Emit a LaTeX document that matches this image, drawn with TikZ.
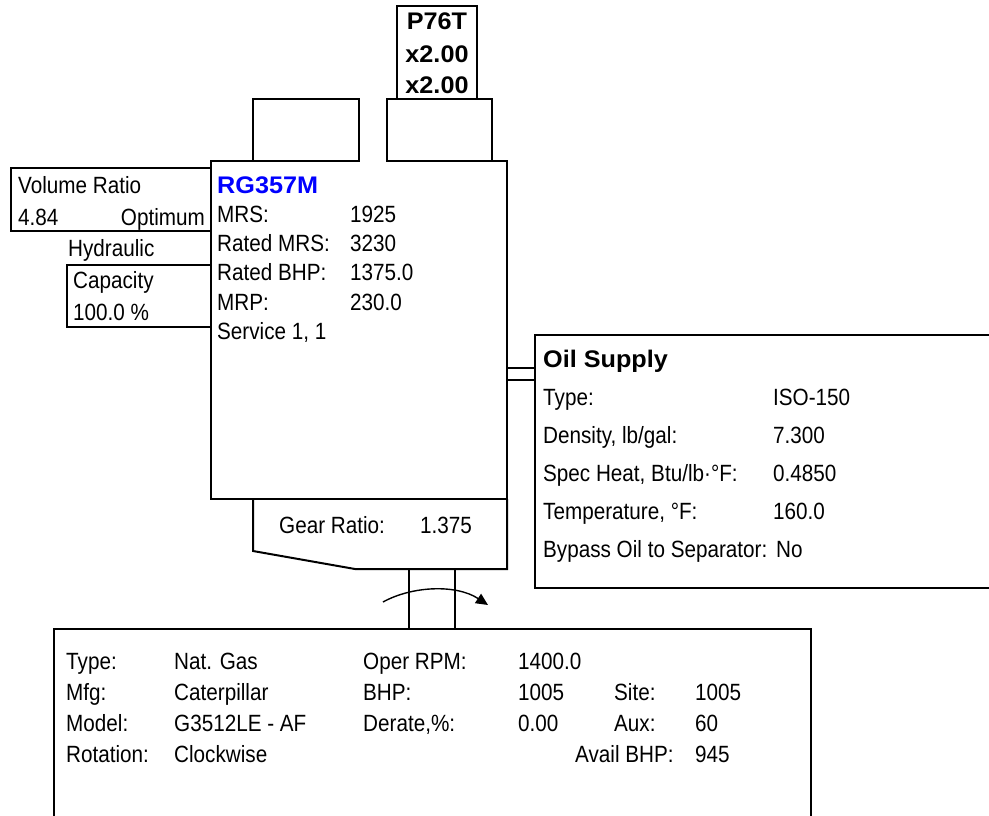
\documentclass[tikz,border=0pt]{standalone}
\usepackage{fontspec}
\setmainfont{Liberation Sans}[FakeStretch=0.88]
\newfontfamily\bdfamily{Liberation Sans}[FakeStretch=1.05]
\usetikzlibrary{arrows.meta}
\definecolor{tblue}{RGB}{0,0,255}
\newcommand{\rgfont}{\fontsize{23.5}{28}\selectfont}
\newcommand{\bdfont}{\bdfamily\bfseries\fontsize{24}{28}\selectfont}
\begin{document}
\begin{tikzpicture}[x=1pt,y=-1pt,
  ln/.style={line width=2pt, line join=miter},
  tx/.style={anchor=base west, inner sep=0pt, font=\rgfont},
  bd/.style={anchor=base west, inner sep=0pt, font=\bdfont}]
\useasboundingbox (0,0) rectangle (989,815);
\clip (0,0) rectangle (989,815);
\fill[white] (0,0) rectangle (989,815);

% compressor top
\draw[ln] (397,6) rectangle (477,99);
\draw[ln] (253,99) rectangle (359,161);
\draw[ln] (387,99) rectangle (492,161);
\node[bd, anchor=base] (p76t) at (437,29) {P76T};
\node[bd, anchor=base] (mult1) at (437,62) {x2.00};
\node[bd, anchor=base] (mult2) at (437,93) {x2.00};

% main box
\draw[ln] (359,161) -- (211,161) -- (211,499) -- (507,499) -- (507,161) -- (387,161);
\node[bd, text=tblue] (model) at (217,193) {RG357M};
\node[tx] (l1) at (217,222) {MRS:};        \node[tx] (v1) at (350,222) {1925};
\node[tx] (l2) at (217,251) {Rated MRS:};  \node[tx] (v2) at (350,251) {3230};
\node[tx] (l3) at (217,280) {Rated BHP:};  \node[tx] (v3) at (350,280) {1375.0};
\node[tx] (l4) at (217,310) {MRP:};        \node[tx] (v4) at (350,310) {230.0};
\node[tx] (l5) at (217,339) {Service 1, 1};

% volume ratio / capacity
\draw[ln] (11,168) rectangle (211,231);
\node[tx] (vr) at (18,193) {Volume Ratio};
\node[tx] (vrv) at (18,225) {4.84};
\node[tx, anchor=base east] (vro) at (205,225) {Optimum};
\node[tx] (hyd) at (68,256) {Hydraulic};
\draw[ln] (67,265) rectangle (211,327);
\node[tx] (cap) at (73,288) {Capacity};
\node[tx] (capv) at (73,320) {100.0 \%};

% gear box
\draw[ln] (253,499) -- (253,551) -- (355,569) -- (507,569) -- (507,499);
\node[tx] (gr) at (279,533) {Gear Ratio:};
\node[tx] (grv) at (420,533) {1.375};

% shaft and rotation arrow
\draw[ln] (409,569) -- (409,629);
\draw[ln] (455,569) -- (455,629);
\draw[line width=1.4pt, -{Triangle[length=12pt,width=11pt]}] (383,602) .. controls (412,586) and (456,584) .. (488,605);

% oil supply
\draw[ln] (507,368) -- (535,368);
\draw[ln] (507,380) -- (535,380);
\draw[ln] (535,335) rectangle (1000,588);
\node[bd] (oil) at (543,367) {Oil Supply};
\node[tx] (o1) at (543,405) {Type:};                      \node[tx] (ov1) at (773,405) {ISO-150};
\node[tx] (o2) at (543,443) {Density, lb/gal:};           \node[tx] (ov2) at (773,443) {7.300};
\node[tx] (o3) at (543,481) {Spec Heat, Btu/lb·°F:};      \node[tx] (ov3) at (773,481) {0.4850};
\node[tx] (o4) at (543,519) {Temperature, °F:};           \node[tx] (ov4) at (773,519) {160.0};
\node[tx] (o5) at (543,557) {Bypass Oil to Separator:};   \node[tx] (ov5) at (776,557) {No};

% driver box
\draw[ln] (54,840) -- (54,629) -- (811,629) -- (811,840);
\node[tx] (d1) at (66,669) {Type:};     \node[tx] (d1v) at (174,669) {Nat. Gas};
\node[tx] (d2) at (66,700) {Mfg:};      \node[tx] (d2v) at (174,700) {Caterpillar};
\node[tx] (d3) at (66,731) {Model:};    \node[tx] (d3v) at (174,731) {G3512LE - AF};
\node[tx] (d4) at (66,762) {Rotation:}; \node[tx] (d4v) at (174,762) {Clockwise};
\node[tx] (e1) at (363,669) {Oper RPM:}; \node[tx] (e1v) at (518,669) {1400.0};
\node[tx] (e2) at (363,700) {BHP:};      \node[tx] (e2v) at (518,700) {1005};
\node[tx] (e3) at (363,731) {Derate,\%:}; \node[tx] (e3v) at (518,731) {0.00};
\node[tx] (f2) at (614,700) {Site:};     \node[tx] (f2v) at (695,700) {1005};
\node[tx] (f3) at (614,731) {Aux:};      \node[tx] (f3v) at (695,731) {60};
\node[tx] (f4) at (575,762) {Avail BHP:}; \node[tx] (f4v) at (695,762) {945};
\end{tikzpicture}
\end{document}
